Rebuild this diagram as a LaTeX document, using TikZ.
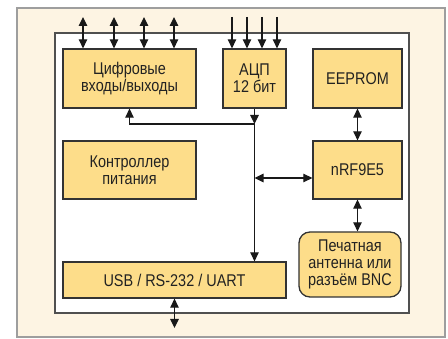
\documentclass[tikz,border=0pt]{standalone}
\usepackage{fontspec}
\setmainfont{Liberation Sans}[FakeStretch=0.85]
\usetikzlibrary{arrows.meta}
\definecolor{cream}{HTML}{FDF4E3}
\definecolor{blkfill}{HTML}{FDDD8A}
\definecolor{blkline}{HTML}{333333}
\definecolor{frameline}{HTML}{9E9E9E}
\definecolor{innerline}{HTML}{505050}
\definecolor{txt}{HTML}{222222}
\begin{document}
\begin{tikzpicture}[x=1pt,y=-1pt,
  blk/.style={draw=blkline,fill=blkfill,line width=1.3pt,align=center,inner sep=0pt,
    text=txt,font=\fontsize{17}{17}\selectfont},
  conn/.style={draw=black!90,line width=1.2pt},
  tip/.style={-{Triangle[length=9pt,width=8.5pt]}},
  dtip/.style={{Triangle[length=9pt,width=8.5pt]}-{Triangle[length=9pt,width=8.5pt]}}]
\useasboundingbox (0,0) rectangle (448,339);
\fill[white] (0,0) rectangle (448,339);
\draw[fill=cream,draw=frameline,line width=2pt] (17,8) rectangle (445,337);
\draw[fill=white,draw=innerline,line width=1.3pt] (55,33) rectangle (409,313);
% blocks
\node[blk,minimum width=133,minimum height=59] (dig) at (129.5,78.5) {Цифровые\\входы/выходы};
\node[blk,minimum width=63,minimum height=59] (adc) at (254.5,78.5) {АЦП\\12 бит};
\node[blk,minimum width=89,minimum height=59] (eep) at (357.5,78.5) {EEPROM};
\node[blk,minimum width=133,minimum height=58] (ctl) at (129.5,170) {Контроллер\\питания};
\node[blk,minimum width=89,minimum height=58] (nrf) at (357.5,170) {nRF9E5};
\node[blk,minimum width=102,minimum height=65,rounded corners=11pt] (ant) at (350,264.5) {Печатная\\антенна или\\разъём BNC};
\node[blk,minimum width=223,minimum height=36] (usb) at (174.5,280) {USB / RS-232 / UART};
% top digital I/O arrows
\foreach \x/\n in {83/t1,114/t2,144/t3,174/t4}{
  \coordinate (\n) at (\x,17);
  \draw[conn,dtip] (\n) -- (\n |- dig.north);
}
% ADC inputs
\foreach \x/\n in {232/a1,247/a2,262/a3,277/a4}{
  \coordinate (\n) at (\x,17);
  \draw[conn,tip] (\n) -- (\n |- adc.north);
}
% bus
\coordinate (j) at (254.5,124);
\draw[conn,tip] (adc.south) -- (j);
\draw[conn,tip] (j) -| (dig.south);
\draw[conn,tip] (j) -- (j |- usb.north);
\coordinate (h) at (254.5,178);
\draw[conn,dtip] (h) -- (h -| nrf.west);
% right column
\draw[conn,dtip] (eep.south) -- (nrf.north);
\draw[conn,dtip] (nrf.south) -- (nrf.south |- ant.north);
% USB external
\coordinate (b) at (174.5,328);
\draw[conn,dtip] (usb.south) -- (b);
\end{tikzpicture}
\end{document}
